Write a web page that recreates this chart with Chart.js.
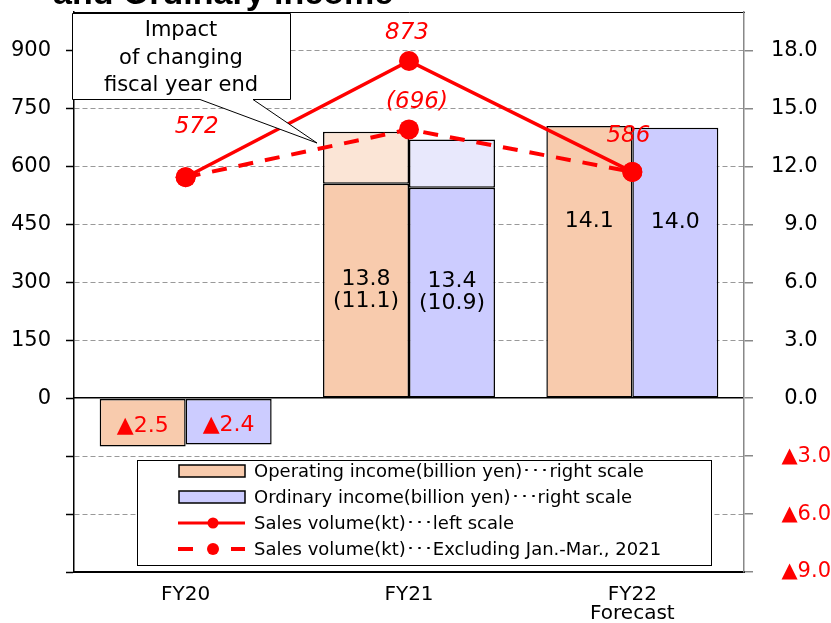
<!DOCTYPE html>
<html><head><meta charset="utf-8">
<script src="https://cdn.jsdelivr.net/npm/chart.js@4.4.1/dist/chart.umd.min.js"></script>
<style>html,body{margin:0;padding:0;background:#fff;}#wrap{width:831px;height:623px;position:relative;overflow:hidden;}</style>
</head><body><div id="wrap"><canvas id="c"></canvas></div>
<script>
// ---- data ----
const categories = [['FY20'], ['FY21'], ['FY22', 'Forecast']];
const operatingIncome = [-2.5, 13.8, 14.1];        // billion yen (right scale)
const operatingIncomeExcl = [-2.5, 11.1, 14.1];    // excluding Jan.-Mar. 2021
const ordinaryIncome = [-2.4, 13.4, 14.0];
const ordinaryIncomeExcl = [-2.4, 10.9, 14.0];
const salesVolume = [572, 873, 586];               // kt (left scale)
const salesVolumeExcl = [572, 696, 586];
const leftTicks = [-450, -300, -150, 0, 150, 300, 450, 600, 750, 900];
const rightTicks = [-9, -6, -3, 0, 3, 6, 9, 12, 15, 18];
const legendLabels = [
  'Operating income(billion yen)\uFF65\uFF65\uFF65right scale',
  'Ordinary income(billion yen)\uFF65\uFF65\uFF65right scale',
  'Sales volume(kt)\uFF65\uFF65\uFF65left scale',
  'Sales volume(kt)\uFF65\uFF65\uFF65Excluding Jan.-Mar., 2021'
];
const calloutLines = ['Impact', 'of changing', 'fiscal year end'];
const titleText = 'and Ordinary income';

// ---- styles ----
const OP = '#F8CBAD', OP_L = '#FBE5D6', ORD = '#CCCCFF', ORD_L = '#E8E8FC', RED = '#FF0000';
const FONT = 'DejaVu Sans';
const extra = (tot, ex) => tot.map((v, i) => v !== ex[i] ? +(v - ex[i]).toFixed(1) : null);
const fmtNeg = v => v < 0 ? '\u25B2' + Math.abs(v).toFixed(1) : v.toFixed(1);
const noPad = s => { s.paddingTop = 0; s.paddingBottom = 0; s.paddingLeft = 0; s.paddingRight = 0; };

const barCommon = { yAxisID: 'yR', borderColor: '#000', borderWidth: 1.5, borderSkipped: false,
  categoryPercentage: 0.77, barPercentage: 1.0, order: 2 };

const labelsPlugin = {
  id: 'labelsPlugin',
  afterDatasetsDraw(chart) {
    const ctx = chart.ctx;
    ctx.save();
    ctx.textAlign = 'center';
    ctx.textBaseline = 'middle';
    // bar labels
    const barDy = [4, 0, -40];
    const groups = [[0, operatingIncome, operatingIncomeExcl], [2, ordinaryIncome, ordinaryIncomeExcl]];
    groups.forEach(([di, tot, ex]) => {
      const meta = chart.getDatasetMeta(di);
      meta.data.forEach((el, i) => {
        const cy = (el.y + el.base) / 2 + barDy[i];
        ctx.font = '22px "' + FONT + '"';
        ctx.fillStyle = tot[i] < 0 ? RED : '#000';
        if (tot[i] !== ex[i]) {
          ctx.fillText(fmtNeg(tot[i]), el.x, cy - 11);
          ctx.fillText('(' + fmtNeg(ex[i]) + ')', el.x, cy + 11);
        } else {
          ctx.fillText(fmtNeg(tot[i]), el.x, cy);
        }
      });
    });
    // line labels
    ctx.font = 'italic 23px "' + FONT + '"';
    ctx.fillStyle = RED;
    const solidOff = [[11, -50], [-2, -28], [-4, -36]];
    const sm = chart.getDatasetMeta(4);
    sm.data.forEach((p, i) => ctx.fillText(String(salesVolume[i]), p.x + solidOff[i][0], p.y + solidOff[i][1]));
    const dm = chart.getDatasetMeta(5);
    dm.data.forEach((p, i) => {
      if (salesVolumeExcl[i] !== salesVolume[i]) ctx.fillText('(' + salesVolumeExcl[i] + ')', p.x + 8, p.y - 27);
    });
    ctx.restore();
  },
  afterDraw(chart) {
    const ctx = chart.ctx;
    ctx.save();
    // title (cut off at top)
    ctx.fillStyle = '#000';
    ctx.font = 'bold 34px "Liberation Sans"';
    ctx.textAlign = 'left';
    ctx.textBaseline = 'alphabetic';
    ctx.fillText(titleText, 53, 4);

    // callout box
    ctx.lineWidth = 1;
    ctx.strokeStyle = '#000';
    ctx.fillStyle = '#fff';
    ctx.beginPath();
    ctx.moveTo(72.5, 13.5); ctx.lineTo(290.5, 13.5); ctx.lineTo(290.5, 99.5);
    ctx.lineTo(253, 99.5); ctx.lineTo(317, 143); ctx.lineTo(200, 99.5);
    ctx.lineTo(72.5, 99.5); ctx.closePath();
    ctx.fill(); ctx.stroke();
    ctx.fillStyle = '#000';
    ctx.font = '21px "' + FONT + '"';
    ctx.textAlign = 'center';
    calloutLines.forEach((t, i) => ctx.fillText(t, 181, 36 + i * 27.5));

    // legend
    const lx = 137.5, ly = 460.5, lw = 574, lh = 105;
    ctx.fillStyle = '#fff';
    ctx.fillRect(lx, ly, lw, lh);
    ctx.strokeStyle = '#000'; ctx.lineWidth = 1;
    ctx.strokeRect(lx, ly, lw, lh);
    const rows = [471, 497, 523, 549];
    [OP, ORD].forEach((c, i) => {
      ctx.fillStyle = c;
      ctx.fillRect(179, rows[i] - 6, 66, 12);
      ctx.lineWidth = 1.5; ctx.strokeStyle = '#000';
      ctx.strokeRect(179, rows[i] - 6, 66, 12);
    });
    ctx.strokeStyle = RED; ctx.fillStyle = RED;
    ctx.lineWidth = 3;
    ctx.beginPath(); ctx.moveTo(178, rows[2]); ctx.lineTo(245, rows[2]); ctx.stroke();
    ctx.beginPath(); ctx.arc(213, rows[2], 5.5, 0, Math.PI * 2); ctx.fill();
    ctx.lineWidth = 4;
    ctx.beginPath(); ctx.moveTo(178, rows[3]); ctx.lineTo(193, rows[3]);
    ctx.moveTo(231, rows[3]); ctx.lineTo(245, rows[3]); ctx.stroke();
    ctx.beginPath(); ctx.arc(213, rows[3], 6, 0, Math.PI * 2); ctx.fill();
    ctx.fillStyle = '#000';
    ctx.font = '18px "' + FONT + '"';
    ctx.textAlign = 'left';
    ctx.textBaseline = 'middle';
    legendLabels.forEach((t, i) => ctx.fillText(t, 254, rows[i] + 1));
    ctx.restore();
  }
};

new Chart(document.getElementById('c'), {
  data: {
    labels: categories,
    datasets: [
      Object.assign({ type: 'bar', label: 'Operating income', data: operatingIncomeExcl, backgroundColor: OP, stack: 'op' }, barCommon),
      Object.assign({ type: 'bar', label: 'Operating income (Jan.-Mar. 2021)', data: extra(operatingIncome, operatingIncomeExcl), backgroundColor: OP_L, stack: 'op' }, barCommon),
      Object.assign({ type: 'bar', label: 'Ordinary income', data: ordinaryIncomeExcl, backgroundColor: ORD, stack: 'ord' }, barCommon),
      Object.assign({ type: 'bar', label: 'Ordinary income (Jan.-Mar. 2021)', data: extra(ordinaryIncome, ordinaryIncomeExcl), backgroundColor: ORD_L, stack: 'ord' }, barCommon),
      { type: 'line', label: 'Sales volume', data: salesVolume, yAxisID: 'y', borderColor: RED, backgroundColor: RED,
        borderWidth: 3.5, pointRadius: 10, pointBorderWidth: 0, pointBackgroundColor: RED, tension: 0, order: 0 },
      { type: 'line', label: 'Sales volume excl.', data: salesVolumeExcl, yAxisID: 'y', borderColor: RED, backgroundColor: RED,
        borderWidth: 4, borderDash: [15, 12], pointRadius: 10, pointBorderWidth: 0, pointBackgroundColor: RED, tension: 0, order: 1 }
    ]
  },
  options: {
    responsive: true, maintainAspectRatio: false, animation: false,
    layout: { padding: { top: 12, left: 0, right: 0, bottom: 0 } },
    plugins: { legend: { display: false }, tooltip: { enabled: false }, title: { display: false } },
    scales: {
      x: {
        stacked: true, offset: true,
        grid: { display: false, drawTicks: false },
        border: { display: true, color: '#000', width: 2 },
        ticks: { font: { family: FONT, size: 20, lineHeight: 0.95 }, color: '#000', padding: 13, maxRotation: 0, autoSkip: false },
        afterFit: s => { s.height = 51; noPad(s); }
      },
      x2: {
        position: 'top', display: true,
        grid: { display: false, drawTicks: false },
        ticks: { display: false },
        border: { display: true, color: '#000', width: 1 },
        afterFit: s => { s.height = 0; noPad(s); }
      },
      y: {
        position: 'left', min: -450, max: 1000,
        afterBuildTicks: s => { s.ticks = leftTicks.map(v => ({ value: v })); },
        ticks: { font: { family: FONT, size: 21 }, color: '#000', padding: 15, callback: v => v >= 0 ? String(v) : '' },
        grid: {
          color: c => (c.tick && (c.tick.value === 0 || c.tick.value === -450)) ? 'rgba(0,0,0,0)' : '#999',
          lineWidth: 1, tickLength: 8, tickColor: '#000', tickWidth: 1.5, drawTicks: true
        },
        border: { display: true, color: '#000', width: 1.5, dash: [5, 3] },
        afterFit: s => { s.width = 74; noPad(s); }
      },
      yR: {
        position: 'right', stacked: true, min: -9, max: 20,
        afterBuildTicks: s => { s.ticks = rightTicks.map(v => ({ value: v })); },
        ticks: {
          font: { family: FONT, size: 21 }, crossAlign: 'far', padding: 17,
          color: c => (c.tick && c.tick.value < 0) ? RED : '#000',
          callback: v => v < 0 ? '\u25B2' + Math.abs(v).toFixed(1) : v.toFixed(1) + '  '
        },
        grid: {
          color: c => (c.tick && c.tick.value === 0) ? '#000' : 'rgba(0,0,0,0)',
          lineWidth: 1.5, tickLength: 9, tickColor: '#888', tickWidth: 1.5, drawTicks: true
        },
        border: { display: true, color: '#888', width: 1.5 },
        afterFit: s => { s.width = 87; noPad(s); }
      }
    }
  },
  plugins: [labelsPlugin]
});
</script>
</body></html>
